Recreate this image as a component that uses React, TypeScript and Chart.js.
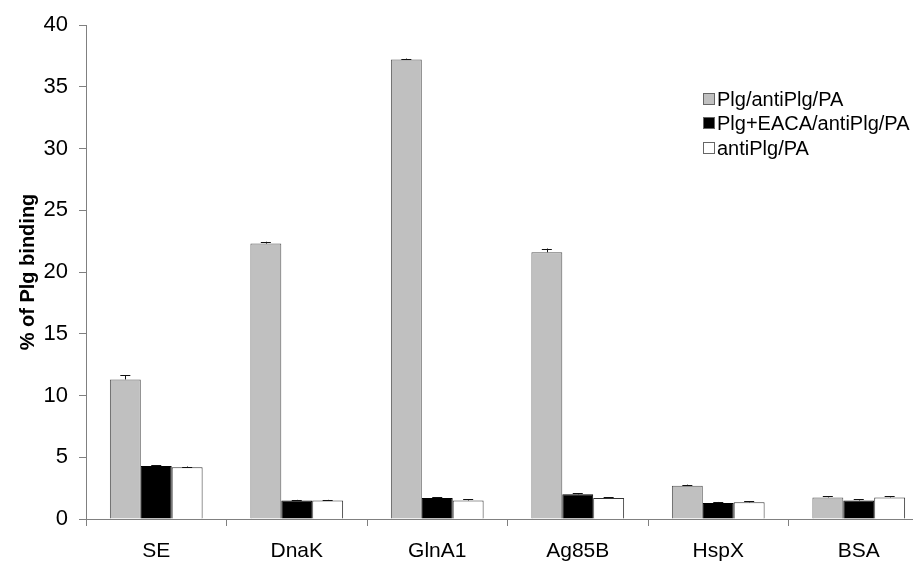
import React, { useEffect, useRef } from "react";
import { Chart, registerables } from "chart.js";

Chart.register(...registerables);

const categories = ["SE", "DnaK", "GlnA1", "Ag85B", "HspX", "BSA"];
const seriesNames = ["Plg/antiPlg/PA", "Plg+EACA/antiPlg/PA", "antiPlg/PA"];
const plgValues = [11.3, 22.3, 37.2, 21.6, 2.7, 1.75];
const plgErrors = [0.35, 0.15, 0.08, 0.3, 0.08, 0.08];
const eacaValues = [4.3, 1.5, 1.7, 2.0, 1.3, 1.5];
const eacaErrors = [0.05, 0.05, 0.05, 0.1, 0.08, 0.08];
const antiValues = [4.2, 1.5, 1.5, 1.7, 1.35, 1.75];
const antiErrors = [0.05, 0.05, 0.1, 0.05, 0.08, 0.08];
const yTicks = [0, 5, 10, 15, 20, 25, 30, 35, 40];

const FONT = "'Liberation Sans', Arial, sans-serif";

const errorBarPlugin = {
  id: "errorBars",
  afterDatasetsDraw(chart: any) {
    const ctx = chart.ctx;
    const yScale = chart.scales.y;
    chart.data.datasets.forEach((ds: any, di: number) => {
      const meta = chart.getDatasetMeta(di);
      const errs: number[] = ds.errors || [];
      meta.data.forEach((bar: any, i: number) => {
        const v = ds.data[i];
        const e = errs[i] || 0;
        if (!e) return;
        const yTop = yScale.getPixelForValue(v + e);
        ctx.save();
        ctx.strokeStyle = "#111";
        ctx.lineWidth = 1;
        ctx.beginPath();
        ctx.moveTo(Math.round(bar.x) + 0.5, bar.y);
        ctx.lineTo(Math.round(bar.x) + 0.5, yTop);
        ctx.moveTo(bar.x - 5, Math.round(yTop) + 0.5);
        ctx.lineTo(bar.x + 5, Math.round(yTop) + 0.5);
        ctx.stroke();
        ctx.restore();
      });
    });
  },
};

const legendPlugin = {
  id: "customLegend",
  afterDraw(chart: any) {
    const ctx = chart.ctx;
    const x0 = 703;
    const rows = [99, 123, 148];
    ctx.save();
    ctx.font = `20px ${FONT}`;
    ctx.textBaseline = "middle";
    chart.data.datasets.forEach((ds: any, i: number) => {
      const y = rows[i];
      ctx.fillStyle = ds.backgroundColor;
      ctx.fillRect(x0, y - 6, 12, 12);
      ctx.strokeStyle = "#666";
      ctx.lineWidth = 1;
      ctx.strokeRect(x0 + 0.5, y - 6 + 0.5, 11, 11);
      ctx.fillStyle = "#000";
      ctx.fillText(ds.label, x0 + 14, y + 1);
    });
    ctx.restore();
  },
};

export default function App() {
  const ref = useRef<HTMLCanvasElement>(null);
  useEffect(() => {
    document.body.style.overflow = "hidden";
    const chart = new Chart(ref.current!, {
      type: "bar",
      data: {
        labels: categories,
        datasets: [
          { label: seriesNames[0], data: plgValues, errors: plgErrors, backgroundColor: "#c0c0c0", borderColor: "#555", borderWidth: 1 } as any,
          { label: seriesNames[1], data: eacaValues, errors: eacaErrors, backgroundColor: "#000000", borderColor: "#000", borderWidth: 1 } as any,
          { label: seriesNames[2], data: antiValues, errors: antiErrors, backgroundColor: "#ffffff", borderColor: "#333", borderWidth: 1 } as any,
        ],
      },
      options: {
        animation: false,
        responsive: false,
        maintainAspectRatio: false,
        layout: { padding: { top: 25, right: 3, left: 0, bottom: 0 } },
        datasets: { bar: { categoryPercentage: 0.66, barPercentage: 1 } },
        plugins: { legend: { display: false }, tooltip: { enabled: false } },
        scales: {
          x: {
            offset: true,
            grid: { offset: true, drawOnChartArea: false, drawTicks: true, tickLength: 7, color: "#808080" },
            border: { display: true, color: "#808080", width: 1 },
            ticks: { color: "#000", font: { family: FONT, size: 21 }, padding: 13 },
            afterFit: (s: any) => { s.height = 45; },
          },
          y: {
            min: 0,
            max: 40,
            afterBuildTicks: (s: any) => { s.ticks = yTicks.map((v) => ({ value: v })); },
            grid: { drawOnChartArea: false, drawTicks: true, tickLength: 7, color: "#808080" },
            border: { display: true, color: "#808080", width: 1 },
            ticks: { color: "#000", font: { family: FONT, size: 22 }, padding: 11 },
            title: { display: true, text: "% of Plg binding", color: "#000", font: { family: FONT, size: 20, weight: "bold" }, padding: { top: 16, bottom: 0 } },
            afterFit: (s: any) => { s.width = 86; },
          },
        },
      } as any,
      plugins: [errorBarPlugin, legendPlugin],
    });
    return () => chart.destroy();
  }, []);
  return (
    <div style={{ position: "relative", width: 932, height: 564, marginLeft: -8, marginTop: -8 }}>
      <canvas ref={ref} width={932} height={564} style={{ display: "block" }} />
    </div>
  );
}
